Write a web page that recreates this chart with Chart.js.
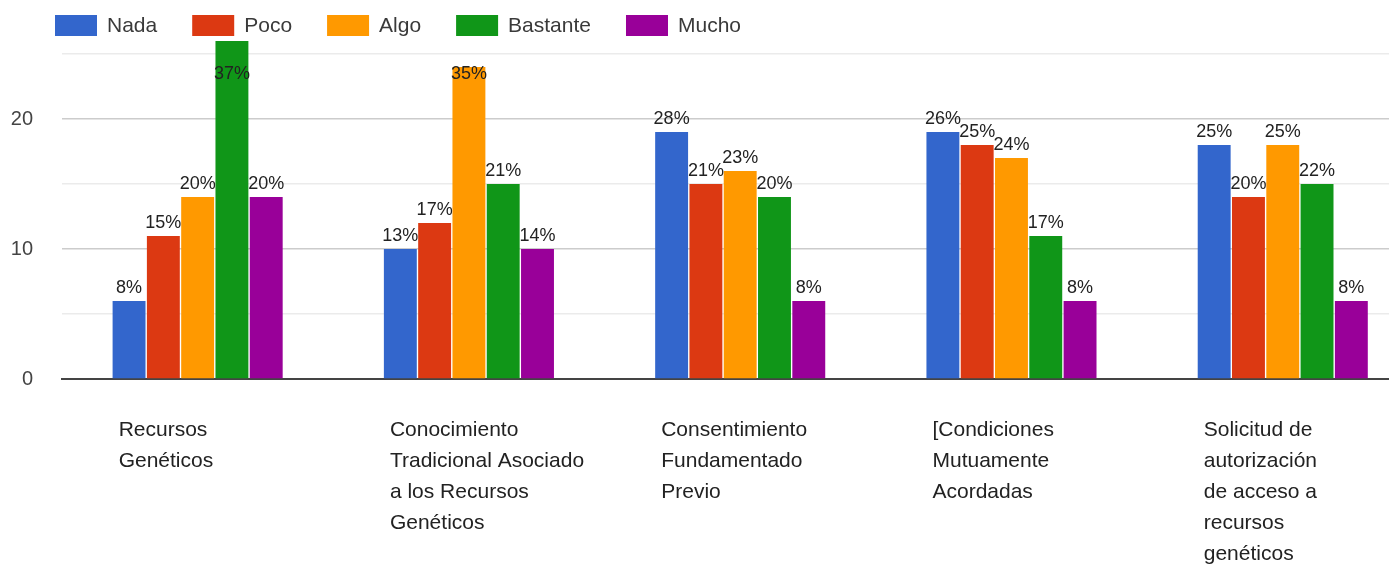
<!DOCTYPE html>
<html>
<head>
<meta charset="utf-8">
<script src="https://cdn.jsdelivr.net/npm/chart.js@4/dist/chart.umd.min.js"></script>
<style>
  html, body { margin: 0; padding: 0; background: #fff; overflow: hidden; }
  #wrap { width: 1432px; height: 570px; position: relative; }
</style>
</head>
<body>
<div id="wrap"><canvas id="c"></canvas></div>
<script>
// ---- data ----
const categories = [
  ['Recursos', 'Genéticos'],
  ['Conocimiento', 'Tradicional Asociado', 'a los Recursos', 'Genéticos'],
  ['Consentimiento', 'Fundamentado', 'Previo'],
  ['[Condiciones', 'Mutuamente', 'Acordadas'],
  ['Solicitud de', 'autorización', 'de acceso a', 'recursos', 'genéticos']
];
const seriesNames = ['Nada', 'Poco', 'Algo', 'Bastante', 'Mucho'];
const nada     = [6, 10, 19, 19, 18];
const poco     = [11, 12, 15, 18, 14];
const algo     = [14, 24, 16, 17, 18];
const bastante = [26, 15, 14, 11, 15];
const mucho    = [14, 10, 6, 6, 6];
const nadaPct     = ['8%', '13%', '28%', '26%', '25%'];
const pocoPct     = ['15%', '17%', '21%', '25%', '20%'];
const algoPct     = ['20%', '35%', '23%', '24%', '25%'];
const bastantePct = ['37%', '21%', '20%', '17%', '22%'];
const muchoPct    = ['20%', '14%', '8%', '8%', '8%'];
const yTicks = [0, 5, 10, 15, 20, 25];
const yMax = 26;

// ---- styles ----
const colors = ['#3366cc', '#dc3912', '#ff9900', '#109618', '#990099'];
const FONT = '"Liberation Sans", Arial, sans-serif';

const values = [nada, poco, algo, bastante, mucho];
const pcts = [nadaPct, pocoPct, algoPct, bastantePct, muchoPct];

const datasets = seriesNames.map((name, i) => ({
  label: name,
  data: values[i],
  pctLabels: pcts[i],
  backgroundColor: colors[i],
  borderWidth: 0,
  barPercentage: 0.96,
  categoryPercentage: 0.632
}));

const customLegend = {
  id: 'customLegend',
  afterDraw(chart) {
    const ctx = chart.ctx;
    ctx.save();
    ctx.font = '21px ' + FONT;
    ctx.textBaseline = 'middle';
    ctx.textAlign = 'left';
    let x = 55;
    const boxY = 15, boxW = 42, boxH = 21;
    chart.data.datasets.forEach(ds => {
      ctx.fillStyle = ds.backgroundColor;
      ctx.fillRect(x, boxY, boxW, boxH);
      ctx.fillStyle = '#3a3a3a';
      const tx = x + boxW + 10;
      ctx.fillText(ds.label, tx, boxY + boxH / 2 + 1);
      x = tx + ctx.measureText(ds.label).width + 35;
    });
    ctx.restore();
  }
};

const barLabels = {
  id: 'barLabels',
  afterDatasetsDraw(chart) {
    const ctx = chart.ctx;
    ctx.save();
    ctx.font = '18px ' + FONT;
    ctx.fillStyle = '#222';
    ctx.textAlign = 'center';
    ctx.textBaseline = 'alphabetic';
    const minBaseline = chart.chartArea.top + 38;
    chart.data.datasets.forEach((ds, di) => {
      const meta = chart.getDatasetMeta(di);
      meta.data.forEach((bar, i) => {
        const y = Math.max(bar.y - 8, minBaseline);
        ctx.fillText(ds.pctLabels[i], bar.x, y);
      });
    });
    ctx.restore();
  }
};

new Chart(document.getElementById('c'), {
  type: 'bar',
  data: { labels: categories, datasets },
  plugins: [customLegend, barLabels],
  options: {
    responsive: true,
    maintainAspectRatio: false,
    animation: false,
    layout: { padding: { top: 40, left: 11, right: 0, bottom: 0 } },
    plugins: {
      legend: { display: false },
      tooltip: { enabled: false }
    },
    scales: {
      x: {
        grid: { display: false, drawTicks: false },
        border: { display: true, color: '#444', width: 2 },
        afterFit(scale) { scale.height = 191; },
        ticks: {
          align: 'start',
          labelOffset: -79,
          padding: 36,
          maxRotation: 0,
          autoSkip: false,
          color: '#222',
          font: { family: FONT, size: 21, lineHeight: 31 / 21 }
        }
      },
      y: {
        min: 0,
        max: yMax,
        afterBuildTicks(scale) {
          scale.ticks = yTicks.map(v => ({ value: v }));
        },
        afterFit(scale) { scale.width = 51; },
        grid: {
          drawTicks: false,
          color: ctx => (ctx.tick && ctx.tick.value % 10 === 0) ? '#cccccc' : '#ebebeb',
          lineWidth: 1.5
        },
        border: { display: false },
        ticks: {
          padding: 29,
          color: '#444',
          font: { family: FONT, size: 20 },
          callback: v => (v % 10 === 0 ? String(v) : '')
        }
      }
    }
  }
});
</script>
</body>
</html>
